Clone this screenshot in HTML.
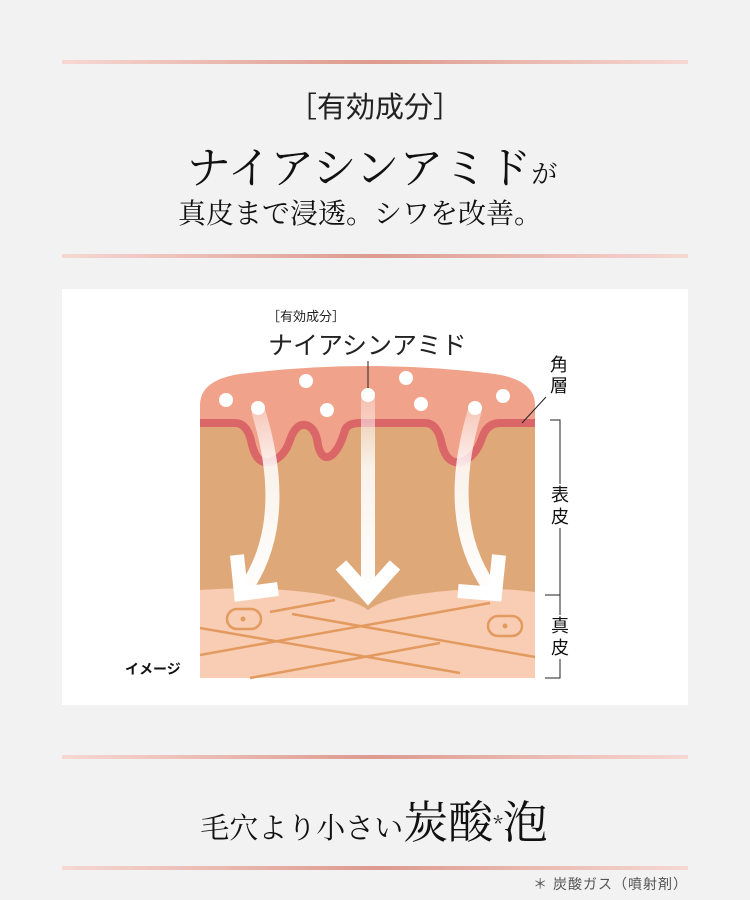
<!DOCTYPE html>
<html><head><meta charset="utf-8"><style>
body{margin:0;width:750px;height:900px;background:#f2f2f2;position:relative;overflow:hidden;font-family:"Liberation Serif","Noto Serif CJK SC","Noto Sans CJK JP",serif;color:#111}
.ln{position:absolute;left:62px;width:626px;height:4px;background:linear-gradient(90deg,#f6d8d2,#dd9a8e 50%,#f6d8d2)}
.t{position:absolute;left:0;width:750px;text-align:center;white-space:nowrap}
.s{font-family:"Liberation Sans","Noto Sans CJK JP",sans-serif}
</style></head><body>
<div class="ln" style="top:60px"></div>
<div class="t s" style="top:84px;font-size:29px;color:#222">［有効成分］</div>
<div class="t" style="top:132px;font-size:44px;left:-3px"><span style="font-family:'Noto Serif CJK SC',serif">ナイアシンアミド</span><span style="font-size:26px">が</span></div>
<div class="t" style="top:192px;font-size:28px;left:-15px;font-family:'Noto Serif CJK SC',serif">真皮まで浸透。シワを改善。</div>
<div class="ln" style="top:254px"></div>
<div style="position:absolute;left:62px;top:289px;width:626px;height:416px;background:#fff"></div>
<svg style="position:absolute;left:0;top:0" width="750" height="900">
<defs><linearGradient id="g" gradientUnits="userSpaceOnUse" x1="0" y1="395" x2="0" y2="600"><stop offset="0" stop-color="#fff" stop-opacity="0.3"/><stop offset="0.35" stop-color="#fff" stop-opacity="0.85"/><stop offset="1" stop-color="#fff"/></linearGradient></defs>
<path d="M200,678 V405 Q200,380 240,374 Q368,358 495,374 Q535,380 535,405 V678Z" fill="#f1a28a"/>
<path d="M200,423 H235 Q248,423 252,445 Q257,465 270,462 Q284,458 290,440 Q296,423 306,425 Q316,428 318,445 Q322,462 332,455 Q340,448 345,430 Q348,423 360,423 H425 Q438,423 442,445 Q447,465 462,462 Q476,456 482,438 Q487,423 500,423 H535 V678 H200Z" fill="#dfa878"/>
<path d="M200,423 H235 Q248,423 252,445 Q257,465 270,462 Q284,458 290,440 Q296,423 306,425 Q316,428 318,445 Q322,462 332,455 Q340,448 345,430 Q348,423 360,423 H425 Q438,423 442,445 Q447,465 462,462 Q476,456 482,438 Q487,423 500,423 H535" fill="none" stroke="#db6668" stroke-width="8"/>
<path d="M200,590 Q260,585 320,594 Q355,600 368,610 Q385,598 420,594 Q480,585 535,592 V678 H200Z" fill="#f8cdb3"/>
<g stroke="#e39a5f" stroke-width="2.5" fill="none">
<line x1="270" y1="612" x2="335" y2="600"/><line x1="292" y1="614" x2="535" y2="657"/><line x1="200" y1="628" x2="460" y2="673"/><line x1="200" y1="655" x2="490" y2="603"/><line x1="250" y1="678" x2="440" y2="643"/>
<rect x="227" y="609" width="34" height="20" rx="10"/><rect x="488" y="616" width="34" height="20" rx="10"/></g>
<circle cx="243" cy="619" r="2.5" fill="#e39a5f"/><circle cx="505" cy="626" r="2.5" fill="#e39a5f"/>
<g stroke="url(#g)" stroke-width="14" fill="none">
<path d="M368,398 V596"/><path d="M258,410 Q292,520 246,588"/><path d="M475,410 Q442,520 490,588"/>
</g>
<g stroke="#fff" stroke-width="14" fill="none">
<polyline points="341,565 368,595 395,565"/>
<polyline points="237,555 241,594 278,589"/>
<polyline points="499,555 495,594 458,591"/>
</g>
<g fill="#fff"><circle cx="226" cy="400" r="7"/><circle cx="258" cy="408" r="7"/><circle cx="306" cy="381" r="7"/><circle cx="327" cy="410" r="7"/><circle cx="368" cy="395" r="7"/><circle cx="406" cy="378" r="7"/><circle cx="421" cy="404" r="7"/><circle cx="475" cy="408" r="7"/><circle cx="503" cy="396" r="7"/></g>
<g stroke="#222" stroke-width="1" fill="none">
<line x1="368" y1="361" x2="368" y2="388"/><line x1="522" y1="423" x2="546" y2="397"/>
<polyline points="550,420 560,420 560,595 550,595"/><polyline points="545,595 560,595 560,678 545,678"/>
</g>
</svg>
<div class="s" style="position:absolute;left:267px;top:306px;font-size:13px;color:#222">［有効成分］</div>
<div class="s" style="position:absolute;left:268px;top:326px;font-size:25px;color:#222">ナイアシンアミド</div>
<div class="s" style="position:absolute;left:549px;top:355px;width:20px;font-size:18px;line-height:21px;text-align:center">角<br>層</div>
<div class="s" style="position:absolute;left:550px;top:484px;width:20px;font-size:18px;line-height:22px;text-align:center;background:#fff">表<br>皮</div>
<div class="s" style="position:absolute;left:550px;top:615px;width:20px;font-size:18px;line-height:22px;text-align:center;background:#fff">真<br>皮</div>
<div class="s" style="position:absolute;left:125px;top:659px;font-size:14px;font-weight:bold">イメージ</div>
<div class="ln" style="top:755px"></div>
<div class="t" style="top:786px;left:-1px;font-family:'Noto Serif CJK SC',serif"><span style="font-size:29px">毛穴より小さい</span><span style="font-size:45px">炭酸</span><sup style="font-size:20px">*</sup><span style="font-size:45px">泡</span></div>
<div class="ln" style="top:866px"></div>
<div class="s" style="position:absolute;right:62px;top:874px;font-size:14px;color:#555;letter-spacing:1px">＊ 炭酸ガス（噴射剤）</div>
</body></html>
